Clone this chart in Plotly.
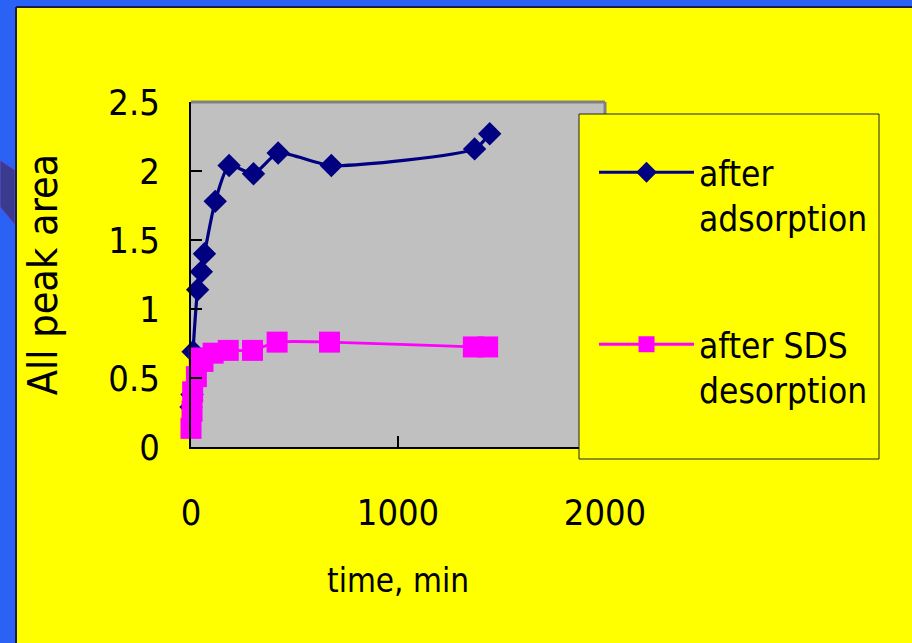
import plotly.graph_objects as go

# ---- data ----
adsorption_time = [0, 5, 10, 32, 50, 65, 117, 184, 302, 421, 678, 1370, 1443]
adsorption_area = [0.29, 0.38, 0.69, 1.14, 1.27, 1.40, 1.78, 2.04, 1.98, 2.13, 2.04, 2.16, 2.27]
desorption_time = [0, 5, 8, 26, 40, 58, 107, 180, 297, 416, 669, 1364, 1433]
desorption_area = [0.135, 0.26, 0.40, 0.51, 0.645, 0.62, 0.68, 0.70, 0.70, 0.76, 0.76, 0.725, 0.725]
x_ticks = [0, 1000, 2000]
y_ticks = [0, 0.5, 1, 1.5, 2, 2.5]

W, H = 912, 643
L, R, T, B = 191, 605, 102, 447  # plot area in pixels


def px(x):
    return (x - L) / (R - L)


def py(y):
    return (B - y) / (B - T)


FONT = "DejaVu Sans Condensed, Liberation Sans Narrow, Roboto, sans-serif"
NAVY = "#000080"
MAGENTA = "#FF00FF"
YELLOW = "#FFFF00"
SLIDE = "#2a62f6"

fig = go.Figure()
fig.add_trace(go.Scatter(
    x=adsorption_time, y=adsorption_area, name="after<br>adsorption", legendgroup="a",
    mode="lines+markers", line=dict(color=NAVY, width=3.2, shape="spline", smoothing=0.6),
    marker=dict(symbol="diamond", size=18, color=NAVY), cliponaxis=False,
))
fig.add_trace(go.Scatter(
    x=desorption_time, y=desorption_area, name="after SDS<br>desorption", legendgroup="b",
    mode="lines+markers", line=dict(color=MAGENTA, width=2.8, shape="spline", smoothing=0.6),
    marker=dict(symbol="square", size=21, color=MAGENTA), cliponaxis=False,
))

deco_path = "M{},{} L{},{} L{},{} L{},{} Z".format(
    px(0), py(160), px(15), py(170), px(15), py(225), px(0), py(207))

shapes = [
    # slide background strips
    dict(type="rect", xref="paper", yref="paper", x0=px(-5), x1=px(16), y0=py(650), y1=py(-5),
         fillcolor=SLIDE, line_width=0, layer="below"),
    dict(type="rect", xref="paper", yref="paper", x0=px(-5), x1=px(920), y0=py(7), y1=py(-5),
         fillcolor=SLIDE, line_width=0, layer="below"),
    dict(type="path", xref="paper", yref="paper", path=deco_path,
         fillcolor="#3a3a8e", line=dict(color="#5a4fe0", width=1), layer="below"),
    dict(type="line", xref="paper", yref="paper", x0=px(16), x1=px(16), y0=py(645), y1=py(7),
         line=dict(color="#1b1f45", width=2), layer="below"),
    dict(type="line", xref="paper", yref="paper", x0=px(16), x1=px(915), y0=py(7), y1=py(7),
         line=dict(color="#1b1f45", width=2), layer="below"),
    # plot area top / right border
    dict(type="line", xref="paper", yref="paper", x0=0, x1=1, y0=1, y1=1,
         line=dict(color="#808080", width=3), layer="above"),
    dict(type="line", xref="paper", yref="paper", x0=1, x1=1, y0=0, y1=1,
         line=dict(color="#808080", width=3), layer="above"),
    # legend box
    dict(type="rect", xref="paper", yref="paper", x0=px(579), x1=px(879), y0=py(459), y1=py(114),
         fillcolor=YELLOW, line=dict(color="#222222", width=1), layer="above"),
]

fig.update_layout(
    width=W, height=H,
    margin=dict(l=L, r=W - R, t=T, b=H - B, pad=0),
    paper_bgcolor=YELLOW, plot_bgcolor="#C0C0C0",
    font=dict(family=FONT, size=36, color="black"),
    showlegend=True,
    legend=dict(x=px(594), y=py(143), xanchor="left", yanchor="top", bgcolor="rgba(0,0,0,0)",
                borderwidth=0, itemwidth=95, valign="top", tracegroupgap=78,
                traceorder="grouped", font=dict(size=35, family=FONT)),
    shapes=shapes,
)
fig.update_xaxes(range=[0, 2000], tickvals=x_ticks, ticks="inside", ticklen=11, tickwidth=2,
                 tickcolor="black", showline=True, linecolor="black", linewidth=2,
                 showgrid=False, zeroline=False, ticklabelstandoff=33, automargin=False,
                 tickfont=dict(size=36),
                 title=dict(text="time, min", standoff=37, font=dict(size=33)))
fig.update_yaxes(range=[0, 2.5], tickvals=y_ticks, ticks="inside", ticklen=11, tickwidth=2,
                 tickcolor="black", showline=True, linecolor="black", linewidth=2,
                 showgrid=False, zeroline=False, ticklabelstandoff=22, automargin=False,
                 tickfont=dict(size=36),
                 title=dict(text="All peak area", standoff=38, font=dict(size=41)))

fig.write_html("out.html")
